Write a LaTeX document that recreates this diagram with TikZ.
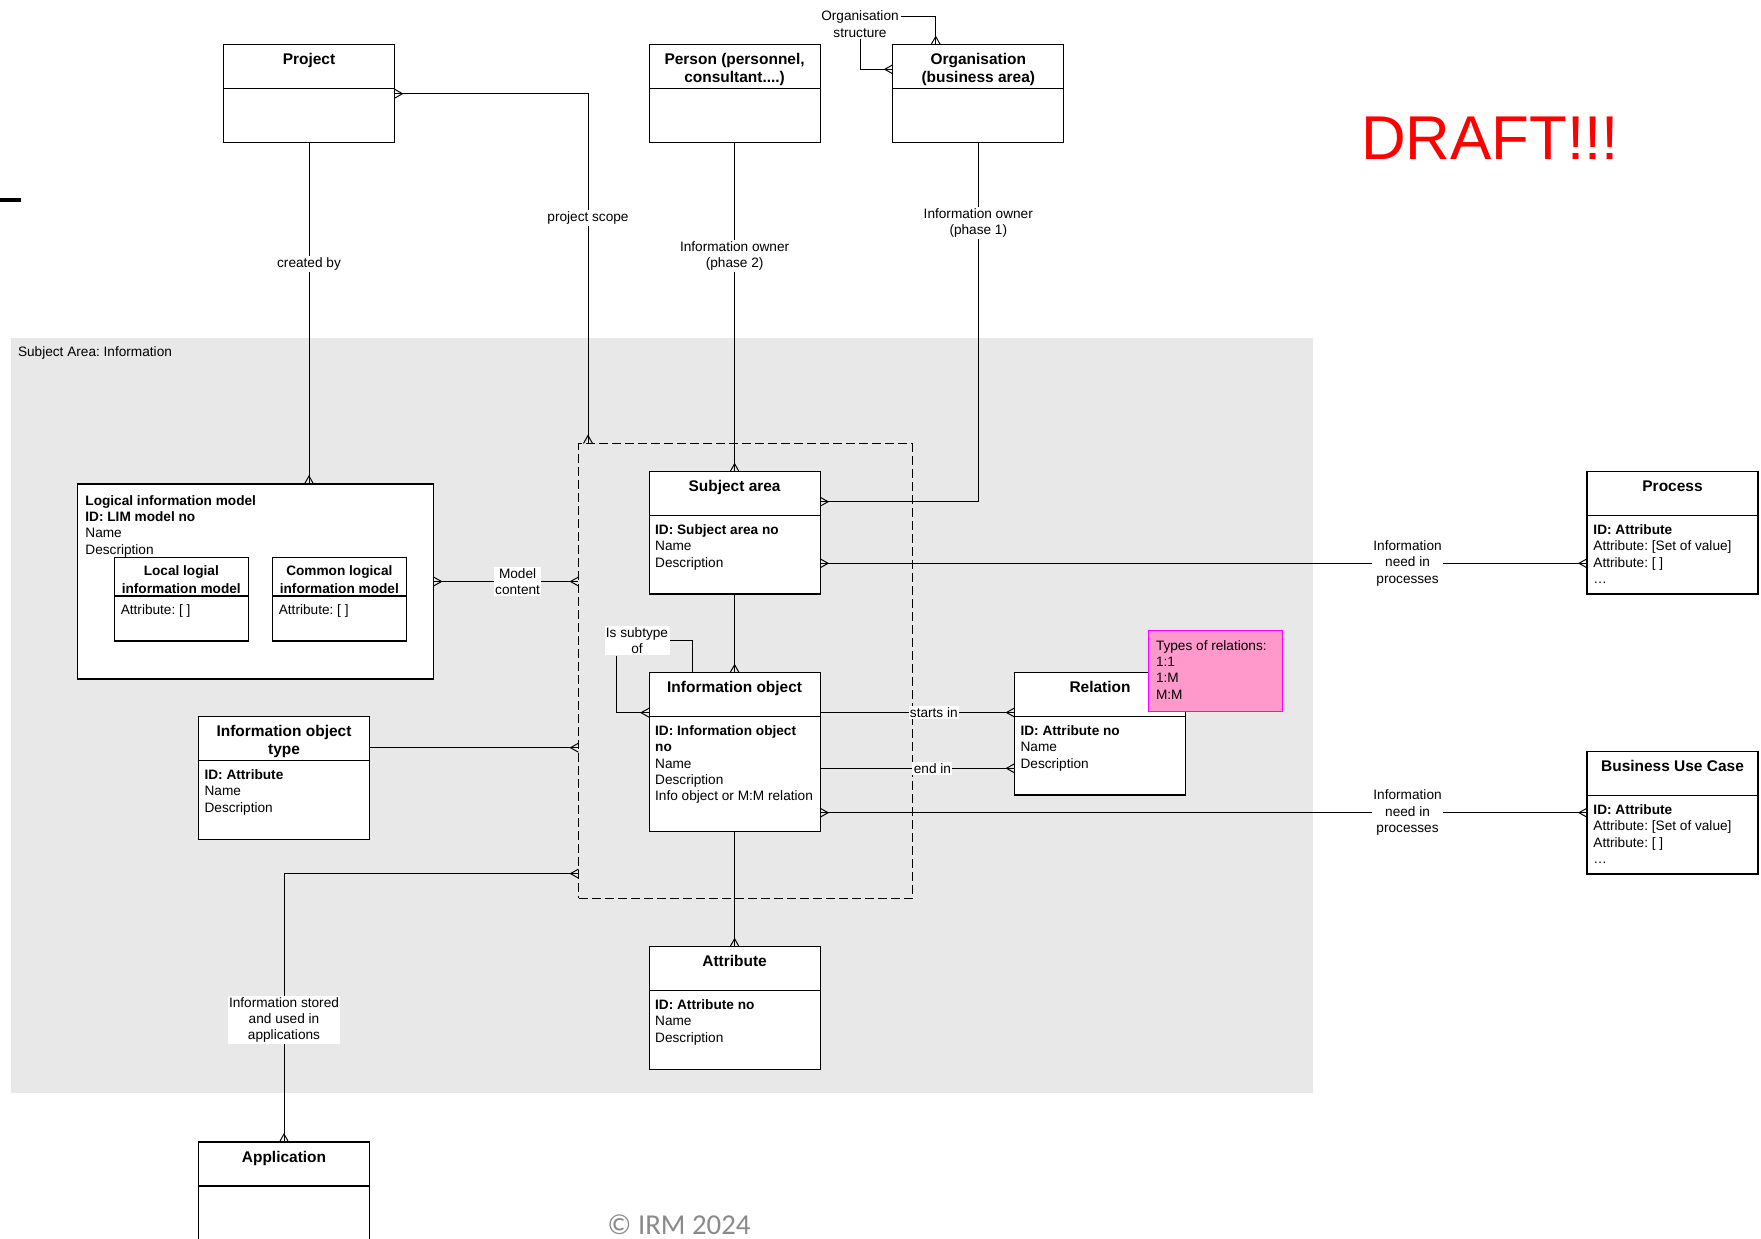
\documentclass[tikz,border=0pt]{standalone}
\usepackage{fontspec}
\setmainfont{Liberation Sans}
\newfontfamily\crfont{Carlito}
\usetikzlibrary{arrows.meta,positioning}
\definecolor{areagray}{HTML}{E8E8E8}
\definecolor{notepink}{HTML}{FF99CC}
\definecolor{notemag}{HTML}{FF00FF}
\definecolor{crgray}{HTML}{8A8A8A}
\frenchspacing

% crow's foot end
\pgfdeclarearrow{
  name = Crow,
  parameters = {\the\pgfarrowlength,\the\pgfarrowwidth},
  setup code = {
    \pgfarrowssettipend{0pt}
    \pgfarrowssetlineend{0pt}
    \pgfarrowssetbackend{-\pgfarrowlength}
    \pgfarrowshullpoint{0pt}{.5\pgfarrowwidth}
    \pgfarrowshullpoint{0pt}{-.5\pgfarrowwidth}
    \pgfarrowshullpoint{-\pgfarrowlength}{0pt}
    \pgfarrowssavethe\pgfarrowlength
    \pgfarrowssavethe\pgfarrowwidth
  },
  drawing code = {
    \pgfpathmoveto{\pgfqpoint{0pt}{.5\pgfarrowwidth}}
    \pgfpathlineto{\pgfqpoint{-\pgfarrowlength}{0pt}}
    \pgfpathlineto{\pgfqpoint{0pt}{-.5\pgfarrowwidth}}
    \pgfusepathqstroke
  },
  defaults = {length=0.2cm, width=0.225cm}
}

\begin{document}
\begin{tikzpicture}[
  x=0.025cm, y=-0.025cm,
  line width=0.7pt,
  font=\fontsize{9.7}{11.6}\selectfont,
  ent/.style={draw, line width=0.8pt, fill=white, minimum width=4.275cm, inner sep=0pt, outer sep=0pt},
  hdr/.style={ent, minimum height=1.1cm},
  ttl/.style={font=\fontsize{11}{12.8}\selectfont\bfseries, align=center, inner sep=0pt},
  txt/.style={align=left, inner sep=0pt},
  lbl/.style={fill=white, align=center, inner sep=1pt},
  rel/.style={-Crow},
  mrel/.style={Crow-Crow}
]
\useasboundingbox (0,0) rectangle (1761,1238);
\clip (0,0) rectangle (1761,1238);

% Subject area and the dashed scope
\node[fill=areagray, minimum width=32.54cm, minimum height=18.875cm, inner sep=0pt] (sarea) at (662,715.5) {};
\node[txt, below right=0.225cm and 0.175cm of sarea.north west] {Subject Area: Information};
\node[draw, dash pattern=on 0.225cm off 0.1cm, minimum width=8.34cm, minimum height=11.35cm, inner sep=0pt] (dbox) at (745.8,671) {};

\draw[line width=0.1cm] (0,200.3) -- (21,200.3);
\node[text=red, font=\fontsize{44}{50}\selectfont, inner sep=0pt] (draft) at (1490,138) {DRAFT!!!};

% Top row
\node[hdr] (projH) at (309,66.5) {};
\node[ent, minimum height=1.355cm, below=0pt of projH] (projB) {};
\node[ttl, below=0.21cm of projH.north] {Project};

\node[hdr] (persH) at (734.6,66.5) {};
\node[ent, minimum height=1.355cm, below=0pt of persH] (persB) {};
\node[ttl, below=0.21cm of persH.north] {Person (personnel,\\consultant....)};

\node[hdr] (orgH) at (978.3,66.5) {};
\node[ent, minimum height=1.355cm, below=0pt of orgH] (orgB) {};
\node[ttl, below=0.21cm of orgH.north] {Organisation\\(business area)};

\node[lbl] (osl) at (860,24.2) {Organisation\\structure};

% Logical information model
\node[ent, minimum width=8.9075cm, minimum height=4.875cm] (lim) at (255.35,581.5) {};
\node[txt, below right=0.27cm and 0.195cm of lim.north west] {\textbf{Logical information model}\\\textbf{ID: LIM model no}\\Name\\Description};

\node[ent, minimum width=3.35cm, minimum height=0.9675cm] (locH) at (181.3,576.65) {};
\node[ent, minimum width=3.35cm, minimum height=1.125cm, below=0pt of locH] (locB) {};
\node[ttl, font=\fontsize{9.7}{12.6}\selectfont\bfseries, below=0.2cm of locH.north] {Local logial\\information model};
\node[txt, below right=0.2cm and 0.15cm of locB.north west] {Attribute: [ ]};

\node[ent, minimum width=3.35cm, minimum height=0.9675cm] (comH) at (339.35,576.65) {};
\node[ent, minimum width=3.35cm, minimum height=1.125cm, below=0pt of comH] (comB) {};
\node[ttl, font=\fontsize{9.7}{12.6}\selectfont\bfseries, below=0.2cm of comH.north] {Common logical\\information model};
\node[txt, below right=0.2cm and 0.15cm of comB.north west] {Attribute: [ ]};

% Core entities
\node[hdr] (subjH) at (734.6,493.7) {};
\node[ent, minimum height=1.9575cm, below=0pt of subjH] (subjB) {};
\node[ttl, below=0.21cm of subjH.north] {Subject area};
\node[txt, below right=0.21cm and 0.14cm of subjB.north west] {\textbf{ID: Subject area no}\\Name\\Description};

\node[hdr] (iobjH) at (734.6,694.7) {};
\node[ent, minimum height=2.875cm, below=0pt of iobjH] (iobjB) {};
\node[ttl, below=0.21cm of iobjH.north] {Information object};
\node[txt, below right=0.21cm and 0.14cm of iobjB.north west] {\textbf{ID: Information object}\\\textbf{no}\\Name\\Description\\Info object or M:M relation};

\node[lbl] (subl) at (637,640.5) {Is subtype\\of};

\node[hdr] (relH) at (1100,694.7) {};
\node[ent, minimum height=1.9575cm, below=0pt of relH] (relB) {};
\node[ttl, below=0.21cm of relH.north] {Relation};
\node[txt, below right=0.21cm and 0.14cm of relB.north west] {\textbf{ID: Attribute no}\\Name\\Description};

\node[draw=notemag, line width=0.7pt, fill=notepink, minimum width=3.345cm, minimum height=2.025cm, inner sep=0pt] (note) at (1215.7,670.5) {};
\node[txt, below right=0.26cm and 0.18cm of note.north west] {Types of relations:\\1:1\\1:M\\M:M};

\node[hdr] (attrH) at (734.6,968.7) {};
\node[ent, minimum height=1.965cm, below=0pt of attrH] (attrB) {};
\node[ttl, below=0.21cm of attrH.north] {Attribute};
\node[txt, below right=0.21cm and 0.14cm of attrB.north west] {\textbf{ID: Attribute no}\\Name\\Description};

\node[hdr] (iotH) at (284,738.8) {};
\node[ent, minimum height=1.97cm, below=0pt of iotH] (iotB) {};
\node[ttl, below=0.21cm of iotH.north] {Information object\\type};
\node[txt, below right=0.21cm and 0.14cm of iotB.north west] {\textbf{ID: Attribute}\\Name\\Description};

\node[hdr] (appH) at (284,1164) {};
\node[ent, minimum height=1.96cm, below=0pt of appH] (appB) {};
\node[ttl, below=0.21cm of appH.north] {Application};

% Right column
\node[hdr] (procH) at (1672.5,493.7) {};
\node[ent, minimum height=1.9575cm, below=0pt of procH] (procB) {};
\node[ttl, below=0.21cm of procH.north] {Process};
\node[txt, below right=0.21cm and 0.15cm of procB.north west] {\textbf{ID: Attribute}\\Attribute: [Set of value]\\Attribute: [ ]\\…};

\node[hdr] (bucH) at (1672.5,773.7) {};
\node[ent, minimum height=1.9575cm, below=0pt of bucH] (bucB) {};
\node[ttl, below=0.21cm of bucH.north] {Business Use Case};
\node[txt, below right=0.21cm and 0.15cm of bucB.north west] {\textbf{ID: Attribute}\\Attribute: [Set of value]\\Attribute: [ ]\\…};

\node[text=crgray, font=\crfont\fontsize{20.5}{24}\selectfont, anchor=base, inner sep=0pt] (copy) at (679,1234) {© IRM 2024};

% Relationships
\coordinate (ost) at (935.7,16.3);
\draw[rel] (ost -| osl.east) -- (ost) -- (ost |- orgH.north);
\coordinate (osb) at (860,69.3);
\draw[rel] (osl.south) -- (osb) -- (osb -| orgH.west);

\coordinate (psc) at (588,93.7);
\draw[mrel] (psc -| projB.east) -- (psc) -- node[lbl, pos=0.356] {project scope} (psc |- dbox.north);
\draw[rel] (projB.south) -- node[lbl, pos=0.355] {created by} (projB.south |- lim.north);
\draw[rel] (persB.south) -- node[lbl, pos=0.345] {Information owner\\(phase 2)} (subjH.north);
\coordinate (own) at (978.3,501.7);
\draw[rel] (orgB.south) -- node[lbl, pos=0.223] {Information owner\\(phase 1)} (own) -- (own -| subjH.east);

\coordinate (sp) at (1400,563.3);
\draw[mrel] (sp -| subjB.east) -- node[lbl, pos=0.766] {Information\\need in\\processes} (sp -| procB.west);
\draw[mrel] (lim.east) -- node[lbl, pos=0.58] {Model\\content} (lim.east -| dbox.west);
\draw[rel] (subjB.south) -- (iobjH.north);

\coordinate (st1) at (692,640.5);
\draw (st1 |- iobjH.north) -- (st1) -- (st1 -| subl.east);
\coordinate (st2) at (616.6,712.7);
\draw[rel] (st2 |- subl.south) -- (st2) -- (st2 -| iobjH.west);

\coordinate (si) at (900,712.5);
\draw[rel] (si -| iobjH.east) -- node[lbl, pos=0.585] {starts in} (si -| relH.west);
\coordinate (ei) at (900,768.3);
\draw[rel] (ei -| iobjB.east) -- node[lbl, pos=0.578] {end in} (ei -| relB.west);

\coordinate (ib) at (1400,812.7);
\draw[mrel] (ib -| iobjB.east) -- node[lbl, pos=0.766] {Information\\need in\\processes} (ib -| bucB.west);
\draw[rel] (iobjB.south) -- (attrH.north);

\coordinate (it) at (450,747.7);
\draw[rel] (it -| iotH.east) -- (it -| dbox.west);
\coordinate (ap) at (284,873.6);
\draw[mrel] (ap -| dbox.west) -- (ap) -- node[lbl, pos=0.545] {Information stored\\and used in\\applications} (ap |- appH.north);

\end{tikzpicture}
\end{document}
